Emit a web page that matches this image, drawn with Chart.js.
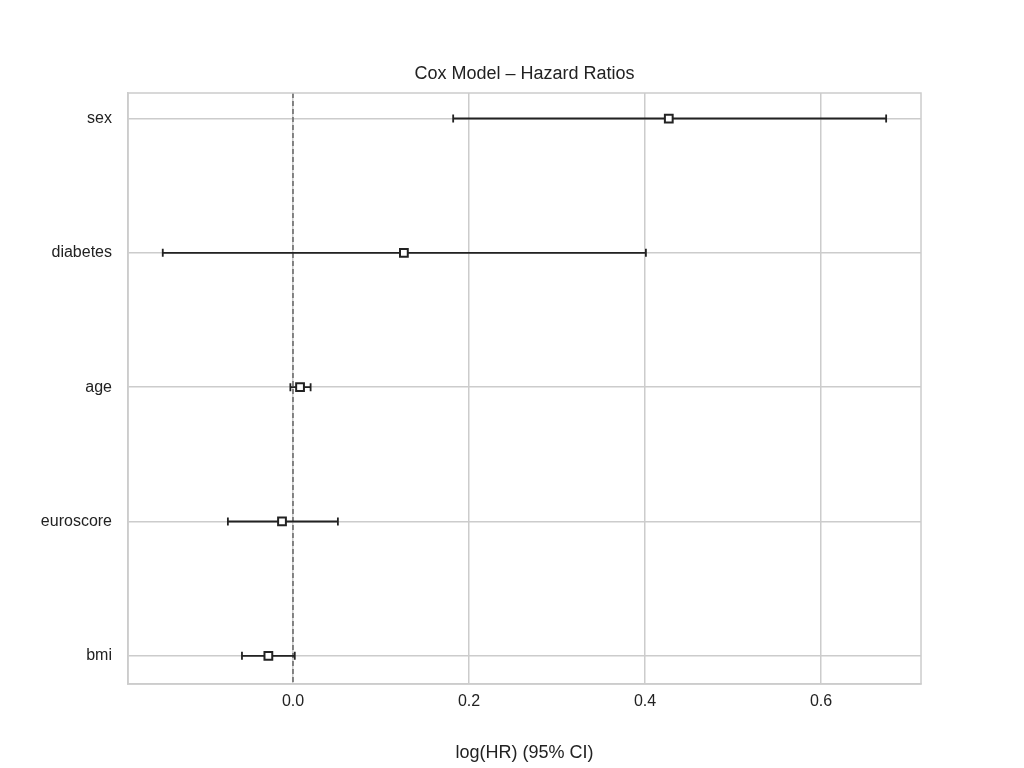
<!DOCTYPE html>
<html><head><script src="https://cdn.jsdelivr.net/npm/chart.js"></script>
<style>body{margin:0;background:#fff}#w{width:1024px;height:768px}</style></head>
<body><div id="w"><canvas id="c"></canvas></div>
<script>
const covariates=["bmi","euroscore","age","diabetes","sex"];
const coef=[-0.028,-0.0125,0.008,0.126,0.427];
const lower=[-0.058,-0.074,-0.003,-0.148,0.182];
const upper=[0.002,0.051,0.020,0.401,0.674];
const xTicks=[0.0,0.2,0.4,0.6];
const titleText='Cox Model – Hazard Ratios';
const F="'Liberation Sans', Arial, sans-serif";
const errPlugin={id:'err',beforeDatasetsDraw(ch){
 const ctx=ch.ctx,x=ch.scales.x,y=ch.scales.y;
 ctx.save();
 ctx.strokeStyle='#555';ctx.setLineDash([5,3]);ctx.lineWidth=1.3;
 const x0=x.getPixelForValue(0);
 ctx.beginPath();ctx.moveTo(x0,ch.chartArea.top);ctx.lineTo(x0,ch.chartArea.bottom);ctx.stroke();
 ctx.setLineDash([]);ctx.strokeStyle='#222';ctx.lineWidth=1.8;
 for(let i=0;i<coef.length;i++){
  const py=y.getPixelForValue(i),a=x.getPixelForValue(lower[i]),b=x.getPixelForValue(upper[i]);
  ctx.beginPath();ctx.moveTo(a,py);ctx.lineTo(b,py);
  ctx.moveTo(a,py-4);ctx.lineTo(a,py+4);ctx.moveTo(b,py-4);ctx.lineTo(b,py+4);ctx.stroke();
 }
 ctx.restore();}};
new Chart(document.getElementById('c'),{type:'scatter',
data:{datasets:[{data:coef.map((v,i)=>({x:v,y:i})),pointStyle:'rect',pointRadius:5.5,
 backgroundColor:'#fff',borderColor:'#222',borderWidth:2}]},
options:{responsive:true,maintainAspectRatio:false,animation:false,
 layout:{padding:{left:0,right:103,top:93,bottom:0}},
 plugins:{legend:{display:false},tooltip:{enabled:false},title:{display:false}},
 scales:{
  x:{type:'linear',min:-0.1875,max:0.7136,afterFit(s){s.height=84;},
   afterBuildTicks(s){s.ticks=xTicks.map(v=>({value:v}));},
   ticks:{color:'#222',font:{family:F,size:16},padding:8,callback:v=>v.toFixed(1)},
   grid:{color:'#ccc',lineWidth:1.5,drawTicks:false},border:{color:'#ccc',width:1.5},
   title:{display:true,text:'log(HR) (95% CI)',color:'#222',font:{family:F,size:18},padding:{top:4}}},
  y:{type:'linear',min:-0.21,max:4.19,afterFit(s){s.width=128;},
   afterBuildTicks(s){s.ticks=covariates.map((c,i)=>({value:i}));},
   ticks:{color:'#222',font:{family:F,size:16},padding:16,callback:v=>covariates[v]},
   grid:{color:'#ccc',lineWidth:1.5,drawTicks:false},border:{color:'#ccc',width:1.5}}
 }},plugins:[errPlugin,{id:'frame',afterDraw(ch){const a=ch.chartArea,c=ch.ctx;c.save();c.strokeStyle='#ccc';c.lineWidth=1.5;c.strokeRect(a.left,a.top,a.right-a.left,a.bottom-a.top);
 c.fillStyle='#222';c.font='18px '+F;c.textAlign='center';c.textBaseline='alphabetic';c.fillText(titleText,(a.left+a.right)/2,a.top-14);c.restore();}}]});
</script></body></html>
